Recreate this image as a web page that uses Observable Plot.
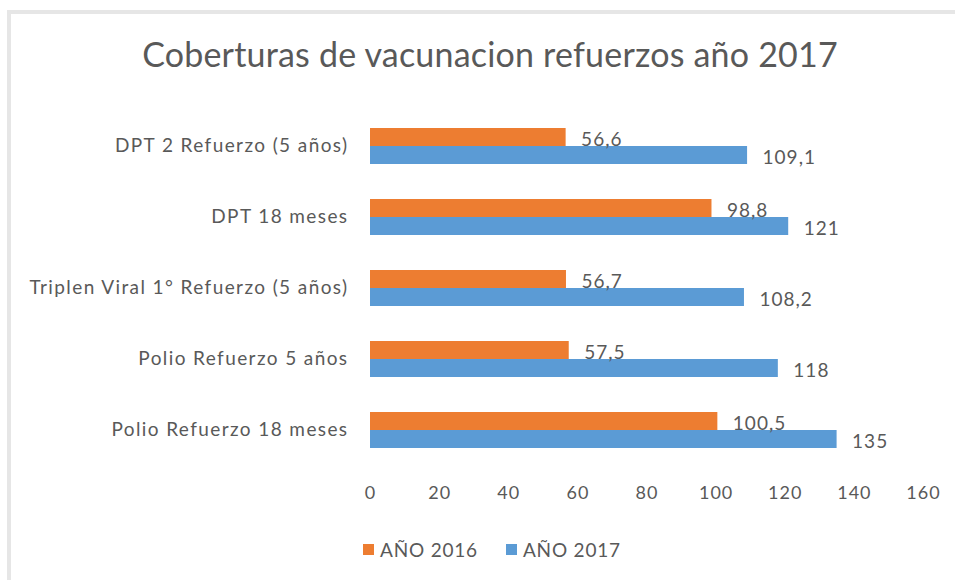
<!DOCTYPE html>
<html>
<head>
<meta charset="utf-8">
<script src="https://cdn.jsdelivr.net/npm/d3@7"></script>
<script src="https://cdn.jsdelivr.net/npm/@observablehq/plot@0.6"></script>
<style>
  html, body { margin: 0; padding: 0; background: #fff; }
  #chart { position: relative; width: 955px; height: 580px; overflow: hidden; font-family: Lato, "Open Sans", sans-serif; }
  #frame { position: absolute; left: 7px; top: 10px; width: 960px; height: 580px; border-top: 4px solid #e6e6e6; border-left: 4px solid #e6e6e6; box-sizing: border-box; }
  #title { position: absolute; left: 0; width: 980px; top: 33px; text-align: center; font-size: 34px; color: #595959; letter-spacing: 0.2px; white-space: nowrap; }
  #plot { position: absolute; left: 0; top: 100px; }
  #legend { position: absolute; top: 538px; left: 363px; display: flex; gap: 28px; font-size: 19px; letter-spacing: 0.8px; color: #595959; }
  .item { display: flex; align-items: center; gap: 6px; }
  .sw { width: 11px; height: 11px; display: inline-block; }
</style>
</head>
<body>
<div id="chart">
  <div id="frame"></div>
  <div id="title">Coberturas de vacunacion refuerzos año 2017</div>
  <div id="plot"></div>
  <div id="legend"></div>
</div>
<script>
const categories = [
  "DPT 2 Refuerzo (5 años)",
  "DPT 18 meses",
  "Triplen Viral 1° Refuerzo (5 años)",
  "Polio Refuerzo 5 años",
  "Polio Refuerzo 18 meses"
];
const series = ["AÑO 2016", "AÑO 2017"];
const values2016 = [56.6, 98.8, 56.7, 57.5, 100.5];
const values2017 = [109.1, 121, 108.2, 118, 135];
const xTicks = [0, 20, 40, 60, 80, 100, 120, 140, 160];
const colors = ["#ED7D31", "#5B9BD5"];

const rows = [];
categories.forEach((c, i) => {
  rows.push({category: c, series: series[0], value: values2016[i]});
  rows.push({category: c, series: series[1], value: values2017[i]});
});
const fmt = v => String(v).replace(".", ",");

const chart = Plot.plot({
  width: 955,
  height: 420,
  marginLeft: 370,
  marginRight: 32,
  marginTop: 9,
  marginBottom: 55,
  style: {fontFamily: "Lato, 'Open Sans', sans-serif", fontSize: "18px", letterSpacing: "1px", color: "#595959", background: "transparent", overflow: "visible"},
  facet: {data: rows, y: "category"},
  fy: {domain: categories, label: null, tickSize: 0, tickPadding: 22, padding: 0},
  y: {domain: series, axis: null, paddingInner: 0, paddingOuter: 0.87},
  x: {domain: [0, 160], ticks: xTicks, tickSize: 0, tickPadding: 21, label: null, tickFormat: d => String(d)},
  color: {domain: series, range: colors},
  marks: [
    Plot.barX(rows, {x: "value", y: "series", fill: "series"}),
    Plot.text(rows, {x: "value", y: "series", text: d => fmt(d.value), textAnchor: "start", dx: 15, dy: 2, fill: "#595959", fontSize: 19})
  ]
});
document.getElementById("plot").appendChild(chart);
chart.querySelectorAll("[aria-label='fy-axis tick label'] text, [aria-label='fy-axis'] text").forEach(t => {
  t.style.fontSize = "19px";
  t.style.letterSpacing = "1.4px";
});

const legend = document.getElementById("legend");
series.forEach((s, i) => {
  const it = document.createElement("div");
  it.className = "item";
  const sw = document.createElement("span");
  sw.className = "sw";
  sw.style.background = colors[i];
  const tx = document.createElement("span");
  tx.textContent = s;
  it.appendChild(sw); it.appendChild(tx);
  legend.appendChild(it);
});
</script>
</body>
</html>
